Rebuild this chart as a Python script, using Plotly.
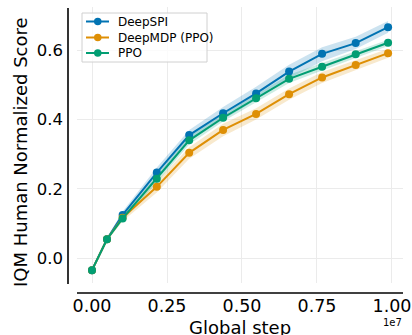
import plotly.graph_objects as go

steps = [0, 0.05e7, 0.102e7, 0.216e7, 0.324e7, 0.437e7, 0.547e7, 0.657e7, 0.767e7, 0.879e7, 0.987e7]

deepspi = [-0.034, 0.055, 0.125, 0.247, 0.355, 0.418, 0.475, 0.538, 0.589, 0.620, 0.666]
deepspi_lo = [-0.036, 0.050, 0.115, 0.232, 0.338, 0.400, 0.457, 0.518, 0.568, 0.603, 0.650]
deepspi_hi = [-0.032, 0.060, 0.135, 0.262, 0.370, 0.436, 0.494, 0.558, 0.608, 0.638, 0.684]

deepmdp = [-0.034, 0.055, 0.117, 0.206, 0.304, 0.370, 0.416, 0.473, 0.521, 0.557, 0.591]
deepmdp_lo = [-0.036, 0.050, 0.107, 0.190, 0.287, 0.352, 0.400, 0.457, 0.505, 0.543, 0.578]
deepmdp_hi = [-0.032, 0.060, 0.127, 0.222, 0.320, 0.388, 0.432, 0.489, 0.537, 0.571, 0.604]

ppo = [-0.034, 0.055, 0.115, 0.229, 0.340, 0.405, 0.461, 0.517, 0.552, 0.588, 0.621]
ppo_lo = [-0.036, 0.051, 0.108, 0.218, 0.328, 0.394, 0.450, 0.505, 0.541, 0.578, 0.612]
ppo_hi = [-0.032, 0.059, 0.122, 0.240, 0.352, 0.416, 0.472, 0.529, 0.563, 0.598, 0.630]

names = ["DeepSPI", "DeepMDP (PPO)", "PPO"]
colors = ["#0173b2", "#de8f05", "#029e73"]
fills = ["rgba(1,115,178,0.2)", "rgba(222,143,5,0.2)", "rgba(2,158,115,0.2)"]
series = [(deepspi, deepspi_lo, deepspi_hi), (deepmdp, deepmdp_lo, deepmdp_hi), (ppo, ppo_lo, ppo_hi)]

x_tickvals = [0, 0.25e7, 0.5e7, 0.75e7, 1.0e7]
x_ticktext = ["0.00", "0.25", "0.50", "0.75", "1.00"]
y_tickvals = [0.0, 0.2, 0.4, 0.6]
y_ticktext = ["0.0", "0.2", "0.4", "0.6"]

FONT = "DejaVu Sans"
W, H = 412, 335
ML, MR, MT, MB = 77, 9, 7, 52
PW, PH = W - ML - MR, H - MT - MB

def px(xp):
    return (xp - ML) / PW

def py(yp):
    return (H - MB - yp) / PH

fig = go.Figure()

for (m, lo, hi), c, f in zip(series, colors, fills):
    fig.add_trace(go.Scatter(x=steps + steps[::-1], y=hi + lo[::-1], fill="toself",
                             fillcolor=f, line=dict(width=0), mode="lines",
                             showlegend=False, hoverinfo="skip"))

for (m, lo, hi), c, n in zip(series, colors, names):
    fig.add_trace(go.Scatter(x=steps, y=m, name=n, mode="lines+markers",
                             line=dict(color=c, width=2),
                             marker=dict(color=c, size=8), showlegend=False))

shapes = [
    dict(type="line", xref="paper", yref="paper", x0=px(68), x1=px(68), y0=py(284), y1=py(8),
         line=dict(color="black", width=1.6)),
    dict(type="line", xref="paper", yref="paper", x0=px(77), x1=px(403), y0=py(293), y1=py(293),
         line=dict(color="black", width=1.6)),
    # legend frame
    dict(type="rect", xref="paper", yref="paper", x0=px(82), x1=px(207), y0=py(62), y1=py(13),
         line=dict(color="#d0d0d0", width=1), fillcolor="rgba(255,255,255,0.8)", layer="above"),
]
annotations = [
    dict(text="IQM Human Normalized Score", xref="paper", yref="paper",
         x=px(20), y=py(152), textangle=-90, showarrow=False,
         xanchor="center", yanchor="middle", font=dict(size=18, family=FONT)),
    dict(text="Global step", xref="paper", yref="paper",
         x=px(240), y=py(315), showarrow=False, xanchor="center", yanchor="top",
         font=dict(size=18, family=FONT)),
    dict(text="1e7", xref="paper", yref="paper",
         x=px(392), y=py(322), showarrow=False, xanchor="center", yanchor="middle",
         font=dict(size=10, family=FONT)),
]
row_y = [21.5, 37.5, 53.0]
for n, c, ry in zip(names, colors, row_y):
    shapes.append(dict(type="line", xref="paper", yref="paper", x0=px(86), x1=px(109),
                       y0=py(ry), y1=py(ry), line=dict(color=c, width=2), layer="above"))
    shapes.append(dict(type="circle", xref="paper", yref="paper", x0=px(94), x1=px(101.5),
                       y0=py(ry + 3.75), y1=py(ry - 3.75), line=dict(color=c, width=0),
                       fillcolor=c, layer="above"))
    annotations.append(dict(text=n, xref="paper", yref="paper", x=px(116), y=py(ry),
                            showarrow=False, xanchor="left", yanchor="middle",
                            font=dict(size=12, family=FONT)))

fig.update_layout(
    width=W, height=H,
    margin=dict(l=ML, r=MR, t=MT, b=MB, autoexpand=False),
    plot_bgcolor="white", paper_bgcolor="white",
    font=dict(family=FONT, color="black"),
    showlegend=False,
    xaxis=dict(range=[-0.05e7, 1.0367e7], tickvals=x_tickvals, ticktext=x_ticktext,
               showgrid=True, gridcolor="#ebebeb", gridwidth=1, zeroline=False,
               showline=False, ticks="", ticklabelstandoff=10, automargin=False,
               tickfont=dict(size=17.5, family=FONT)),
    yaxis=dict(range=[-0.071, 0.724], tickvals=y_tickvals, ticktext=y_ticktext,
               showgrid=True, gridcolor="#ebebeb", gridwidth=1, zeroline=False,
               showline=False, ticks="", ticklabelstandoff=13, automargin=False,
               tickfont=dict(size=16.5, family=FONT)),
    shapes=shapes,
    annotations=annotations,
)

fig.write_html("out.html", config={"displayModeBar": False},
               post_script="document.body.style.margin='0';document.body.style.overflow='hidden';")
